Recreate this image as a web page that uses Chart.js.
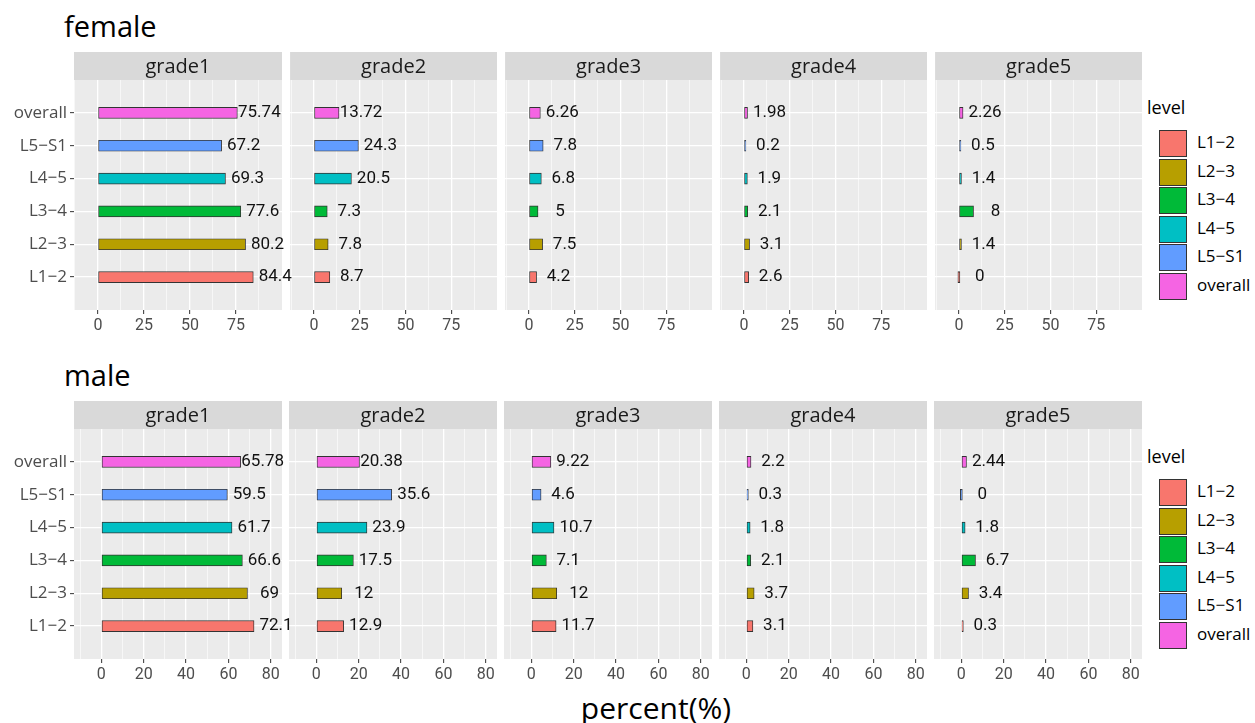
<!DOCTYPE html>
<html>
<head>
<meta charset="utf-8">
<script src="https://cdn.jsdelivr.net/npm/chart.js@4.4.0/dist/chart.umd.min.js"></script>
<style>
  body { margin: 0; background: #fff; width: 1255px; height: 723px; position: relative; overflow: hidden; font-family: 'Open Sans', sans-serif; }
  canvas { position: absolute; }
  .txt { position: absolute; white-space: nowrap; color: #000; }
  .key { position: absolute; box-sizing: border-box; border: 1px solid #333; }
</style>
</head>
<body>
<script>
const levels = ['L1−2', 'L2−3', 'L3−4', 'L4−5', 'L5−S1', 'overall'];
const grades = ['grade1', 'grade2', 'grade3', 'grade4', 'grade5'];
const levelColors = ['#F8766D', '#B79F00', '#00BA38', '#00BFC4', '#619CFF', '#F564E3'];

// values per grade, in the order of levels
const femaleGrade1 = [84.4, 80.2, 77.6, 69.3, 67.2, 75.74];
const femaleGrade2 = [8.7, 7.8, 7.3, 20.5, 24.3, 13.72];
const femaleGrade3 = [4.2, 7.5, 5, 6.8, 7.8, 6.26];
const femaleGrade4 = [2.6, 3.1, 2.1, 1.9, 0.2, 1.98];
const femaleGrade5 = [0, 1.4, 8, 1.4, 0.5, 2.26];

const maleGrade1 = [72.1, 69, 66.6, 61.7, 59.5, 65.78];
const maleGrade2 = [12.9, 12, 17.5, 23.9, 35.6, 20.38];
const maleGrade3 = [11.7, 12, 7.1, 10.7, 4.6, 9.22];
const maleGrade4 = [3.1, 3.7, 2.1, 1.8, 0.3, 2.2];
const maleGrade5 = [0.3, 3.4, 6.7, 1.8, 0, 2.44];

const femaleTicks = [0, 25, 50, 75];
const femaleMinor = [-12.5, 12.5, 37.5, 62.5, 87.5];
const maleTicks = [0, 20, 40, 60, 80];
const maleMinor = [-10, 10, 30, 50, 70];

const rows = [
  { name: 'female', top: 52, min: -13, max: 100, major: femaleTicks, minor: femaleMinor,
    data: [femaleGrade1, femaleGrade2, femaleGrade3, femaleGrade4, femaleGrade5] },
  { name: 'male', top: 401, min: -12.9, max: 85.3, major: maleTicks, minor: maleMinor,
    data: [maleGrade1, maleGrade2, maleGrade3, maleGrade4, maleGrade5] }
];

const colLeft = [74, 289, 504, 719, 934];
const panelW = 208, stripH = 28, plotH = 230, axisH = 32, yAxisW = 74, spill = 24;

const panelPlugin = {
  id: 'panel',
  beforeDraw(chart, args, opts) {
    const { ctx, chartArea: a } = chart;
    ctx.save();
    ctx.fillStyle = '#EBEBEB';
    ctx.fillRect(a.left, a.top, a.right - a.left, a.bottom - a.top);
    ctx.fillStyle = '#D9D9D9';
    ctx.fillRect(a.left, 0, a.right - a.left, a.top);
    ctx.fillStyle = '#1A1A1A';
    ctx.font = '20px "Open Sans"';
    ctx.textAlign = 'center';
    ctx.textBaseline = 'middle';
    ctx.fillText(opts.strip, (a.left + a.right) / 2, a.top / 2 + 1);
    ctx.restore();
  },
  afterDatasetsDraw(chart) {
    const ctx = chart.ctx;
    const ds = chart.data.datasets[0];
    ctx.save();
    ctx.fillStyle = '#111';
    ctx.font = '17px Roboto';
    ctx.textAlign = 'center';
    ctx.textBaseline = 'middle';
    chart.getDatasetMeta(0).data.forEach((bar, i) => {
      const v = ds.data[i];
      if (v == null) return;
      ctx.fillText(String(v), bar.x + 22, bar.y);
    });
    ctx.restore();
  }
};

// category labels top to bottom, with an empty slot at each end for padding
const yLabels = [''].concat(levels.slice().reverse(), ['']);
const barColors = [null].concat(levelColors.slice().reverse(), [null]);

function addText(str, left, top, size, extra) {
  const d = document.createElement('div');
  d.className = 'txt';
  d.textContent = str;
  d.style.left = left + 'px';
  d.style.top = top + 'px';
  d.style.fontSize = size + 'px';
  d.style.lineHeight = Math.round(size * 1.2) + 'px';
  if (extra) Object.assign(d.style, extra);
  document.body.appendChild(d);
}

rows.forEach(row => {
  row.data.forEach((vals, col) => {
    const first = col === 0;
    const cv = document.createElement('canvas');
    const left = first ? 0 : colLeft[col];
    const w = (first ? yAxisW + panelW : panelW) + spill;
    const h = stripH + plotH + axisH;
    cv.width = w; cv.height = h;
    cv.style.left = left + 'px';
    cv.style.top = row.top + 'px';
    cv.style.zIndex = 10 - col;
    document.body.appendChild(cv);

    const allTicks = row.major.concat(row.minor).sort((a, b) => a - b);
    const edge = i => i === 0 || i === yLabels.length - 1;

    new Chart(cv, {
      type: 'bar',
      data: {
        labels: yLabels,
        datasets: [{
          data: [null].concat(vals.slice().reverse(), [null]),
          backgroundColor: barColors,
          borderColor: '#333',
          borderWidth: 0.9,
          borderSkipped: false,
          barThickness: 11,
          minBarLength: 2
        }]
      },
      options: {
        indexAxis: 'y',
        responsive: false,
        animation: false,
        layout: { padding: { top: stripH, left: 0, right: spill, bottom: 0 } },
        plugins: { legend: { display: false }, tooltip: { enabled: false }, panel: { strip: grades[col] } },
        scales: {
          x: {
            type: 'linear', min: row.min, max: row.max,
            afterBuildTicks: ax => { ax.ticks = allTicks.map(v => ({ value: v })); },
            afterFit: ax => { ax.height = axisH; },
            ticks: {
              autoSkip: false, maxRotation: 0, padding: 2, color: '#4D4D4D',
              font: { size: 16, family: 'Roboto' },
              callback: v => row.major.includes(v) ? String(v) : ''
            },
            grid: {
              color: '#fff',
              lineWidth: c => (c.tick && row.major.includes(c.tick.value)) ? 1.3 : 0.6,
              tickLength: 4, tickWidth: 1,
              tickColor: c => (c.tick && row.major.includes(c.tick.value)) ? '#333' : 'rgba(0,0,0,0)'
            },
            border: { display: false }
          },
          y: {
            offset: false,
            afterFit: ax => { ax.width = first ? yAxisW : 0; },
            ticks: { display: first, autoSkip: false, padding: 3, color: '#4D4D4D', font: { size: 17, family: 'Open Sans' } },
            grid: {
              offset: false,
              color: c => edge(c.index) ? 'rgba(0,0,0,0)' : '#fff',
              lineWidth: 1.3,
              drawTicks: first, tickLength: 4, tickWidth: 1,
              tickColor: c => edge(c.index) ? 'rgba(0,0,0,0)' : '#333'
            },
            border: { display: false }
          }
        }
      },
      plugins: [panelPlugin]
    });
  });

  // row title
  addText(row.name, 64, row.top - 44, 29);

  // legend
  addText('level', 1147, row.top + 44, 18);
  levels.forEach((lv, i) => {
    const k = document.createElement('div');
    k.className = 'key';
    k.style.left = '1159px';
    k.style.top = (row.top + 78 + i * 28.6) + 'px';
    k.style.width = '28px';
    k.style.height = '27px';
    k.style.background = levelColors[i];
    document.body.appendChild(k);
    addText(lv, 1197, row.top + 80 + i * 28.6, 17);
  });
});

addText('percent(%)', 656, 690, 30, { transform: 'translateX(-50%)' });
</script>
</body>
</html>
